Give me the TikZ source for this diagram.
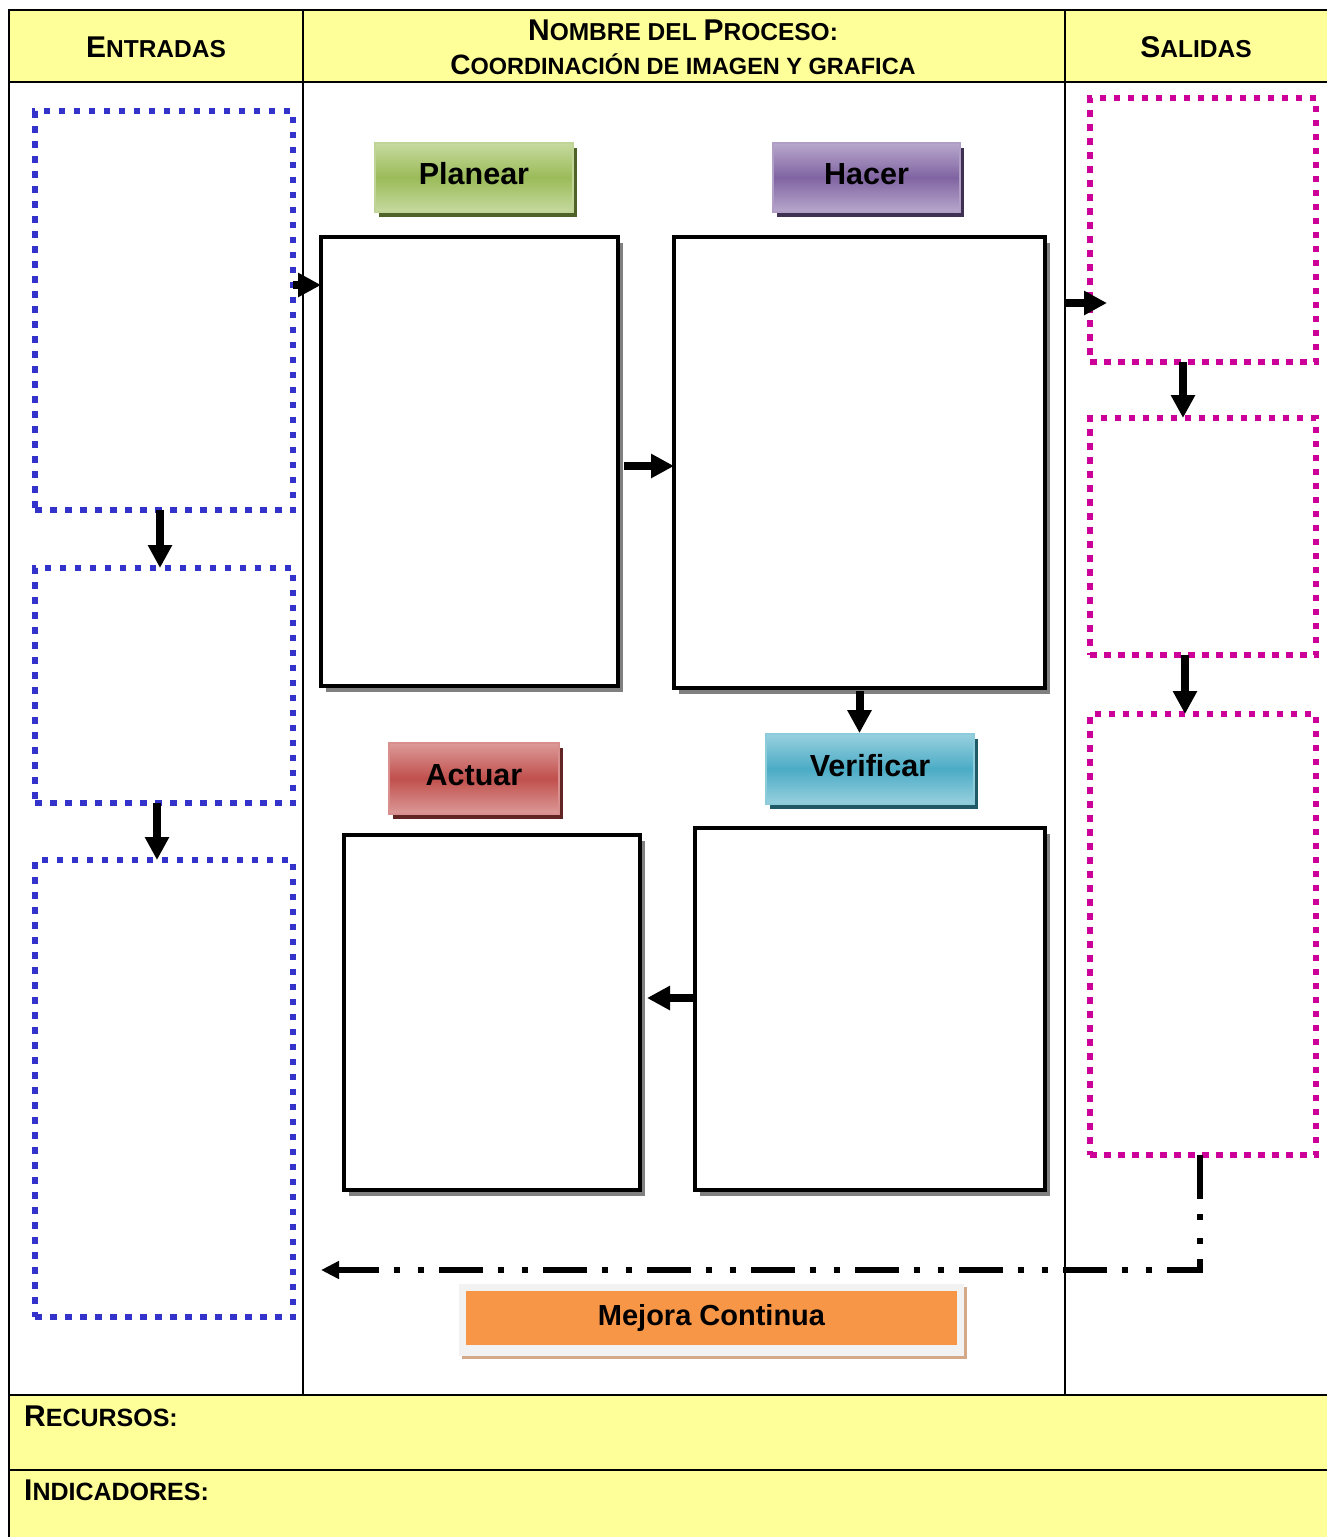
\documentclass[tikz,border=0pt]{standalone}
\usepackage{fontspec}
\setmainfont{Liberation Sans}
\usetikzlibrary{arrows.meta,shadows}

\definecolor{hdr}{HTML}{FFFF99}
\definecolor{inblue}{HTML}{3333CC}
\definecolor{outmag}{HTML}{CC0099}
\definecolor{grnL}{HTML}{C6DA9F}\definecolor{grnM}{HTML}{9BBB59}\definecolor{grnD}{HTML}{4F6228}
\definecolor{purL}{HTML}{B8A8CC}\definecolor{purM}{HTML}{8064A2}\definecolor{purD}{HTML}{3F3151}
\definecolor{redL}{HTML}{DC9A98}\definecolor{redM}{HTML}{C0504D}\definecolor{redD}{HTML}{632523}
\definecolor{cyaL}{HTML}{98D0DE}\definecolor{cyaM}{HTML}{4BACC6}\definecolor{cyaD}{HTML}{215967}
\definecolor{orgM}{HTML}{F79646}\definecolor{orgBg}{HTML}{F2F2F2}\definecolor{orgSh}{HTML}{D4A98A}

% a run of capitals at a given size (used for the small-caps headings)
\newcommand\caprun[2]{{\fontsize{#1}{#1}\selectfont #2}}

\begin{document}
\begin{tikzpicture}[x=1pt,y=-1pt,
  hdtext/.style={anchor=base, inner sep=0pt, font=\bfseries},
  inbox/.style={draw=inblue, line width=6pt, dash pattern=on 6.5pt off 8.5pt, inner sep=0pt, outer sep=0pt},
  outbox/.style={draw=outmag, line width=6pt, dash pattern=on 6.5pt off 7.5pt, inner sep=0pt, outer sep=0pt},
  proc/.style={draw, line width=4pt, fill=white, inner sep=0pt, outer sep=0pt,
    drop shadow={shadow xshift=5pt, shadow yshift=-6pt, fill=black!50, opacity=1}},
  lab/.style n args={3}{draw=#1!85!#2, line width=1.8pt, top color=#1, bottom color=#1, middle color=#2,
    drop shadow={shadow xshift=4pt, shadow yshift=-5pt, fill=#3, opacity=1},
    font=\bfseries\fontsize{30.5}{30.5}\selectfont, inner sep=0pt, text height=22pt, text depth=8pt},
  arr/.style={line width=8pt, -{Triangle[length=23pt,width=23pt]}},
  fb/.style={line width=6pt, dash pattern=on 44pt off 15pt on 6pt off 18pt on 6pt off 15pt,
    -{Triangle[length=18pt,width=17pt]}}
]
\useasboundingbox (0,0) rectangle (1327,1537);
\clip (0,0) rectangle (1327,1537);

% table background and rules
\fill[white] (0,0) rectangle (1327,1537);
\fill[hdr] (9,10) rectangle (1340,82);
\fill[hdr] (9,1395) rectangle (1340,1550);
\draw[line width=2.5pt] (9,1550) -- (9,10) -- (1340,10);
\draw[line width=2.5pt] (9,82) -- (1340,82);
\draw[line width=2.5pt] (9,1395) -- (1340,1395);
\draw[line width=2.5pt] (9,1470) -- (1340,1470);
\draw[line width=2.5pt] (303,10) -- (303,1395);
\draw[line width=2.5pt] (1065,10) -- (1065,1395);
\coordinate (colR) at (1065,82);
\coordinate (fbrow) at (0,1270);

% headings
\node[hdtext] (tin) at (156,57) {\caprun{30}{E}\caprun{24.5}{NTRADAS}};
\node[hdtext] (tname) at (683,40.5) {\caprun{30}{N}\caprun{24.5}{OMBRE DEL }\caprun{30}{P}\caprun{24.5}{ROCESO:}};
\node[hdtext] (tproc) at (683,74) {\caprun{28}{C}\caprun{23.5}{OORDINACIÓN DE IMAGEN Y GRAFICA}};
\node[hdtext] (tout) at (1196,57) {\caprun{30}{S}\caprun{24.5}{ALIDAS}};
\node[hdtext, anchor=base west] (tres) at (24,1426) {\caprun{30}{R}\caprun{25}{ECURSOS:}};
\node[hdtext, anchor=base west] (tind) at (24,1500) {\caprun{30}{I}\caprun{25}{NDICADORES:}};

% inputs
\node[inbox, minimum width=258pt, minimum height=399pt] (in1) at (164,310.5) {};
\node[inbox, minimum width=258pt, minimum height=235pt] (in2) at (164,685.5) {};
\node[inbox, minimum width=258pt, minimum height=457pt] (in3) at (164,1088.5) {};

% outputs
\node[outbox, minimum width=226pt, minimum height=264pt] (out1) at (1203,230) {};
\node[outbox, minimum width=226pt, minimum height=237pt] (out2) at (1203,536.5) {};
\node[outbox, minimum width=226pt, minimum height=441pt] (out3) at (1203,934.5) {};

% PHVA cycle boxes
\node[proc, minimum width=297pt, minimum height=449pt] (plan) at (469.5,461.5) {};
\node[proc, minimum width=371pt, minimum height=451pt] (do) at (859.5,462.5) {};
\node[proc, minimum width=296pt, minimum height=355pt] (act) at (492,1012.5) {};
\node[proc, minimum width=350pt, minimum height=362pt] (chk) at (870,1009) {};

% stage labels
\node[lab={grnL}{grnM}{grnD}, minimum width=198pt, minimum height=69pt] (lplan) at (474,177.5) {Planear};
\node[lab={purL}{purM}{purD}, minimum width=187pt, minimum height=69pt] (ldo) at (866.5,177.5) {Hacer};
\node[lab={redL}{redM}{redD}, minimum width=170pt, minimum height=71pt] (lact) at (474,778.5) {Actuar};
\node[lab={cyaL}{cyaM}{cyaD}, minimum width=208pt, minimum height=70pt] (lchk) at (870,769) {Verificar};

% continuous improvement tag
\node[fill=orgBg, inner sep=0pt, minimum width=505pt, minimum height=72pt,
  drop shadow={shadow xshift=3pt, shadow yshift=-3pt, fill=orgSh, opacity=1}] (mcbg) at (711.5,1320) {};
\node[fill=orgM, inner sep=0pt, minimum width=491pt, minimum height=54pt,
  font=\bfseries\fontsize{29}{29}\selectfont] (mc) at (711.5,1318) {Mejora Continua};

% connectors between inputs
\draw[arr] ([yshift=25.5pt]in1.east) -- ([yshift=25.5pt]in1.east -| plan.west);
\draw[arr] ([xshift=-4pt]in1.south) -- ([xshift=-4pt]in2.north);
\draw[arr] ([xshift=-7pt]in2.south) -- ([xshift=-7pt]in3.north);

% connectors of the cycle
\draw[arr] ([xshift=6pt,yshift=-4.5pt]plan.east) -- ([yshift=-4.5pt]plan.east -| do.west);
\draw[arr] ([yshift=-3pt]do.south) -- (do.south |- lchk.north);
\draw[arr] ([yshift=11pt]chk.west) -- ([xshift=7pt,yshift=11pt]chk.west -| act.east);

% connectors between outputs
\draw[arr] ([yshift=-73pt]out1.west -| colR) -- ([xshift=17pt,yshift=-73pt]out1.west);
\draw[arr] ([xshift=-20pt]out1.south) -- ([xshift=-20pt]out2.north);
\draw[arr] ([xshift=-18pt]out2.south) -- ([xshift=-18pt]out3.north);

% feedback loop
\draw[fb] ([xshift=-3pt]out3.south) |- (plan.west |- fbrow);
\end{tikzpicture}
\end{document}
